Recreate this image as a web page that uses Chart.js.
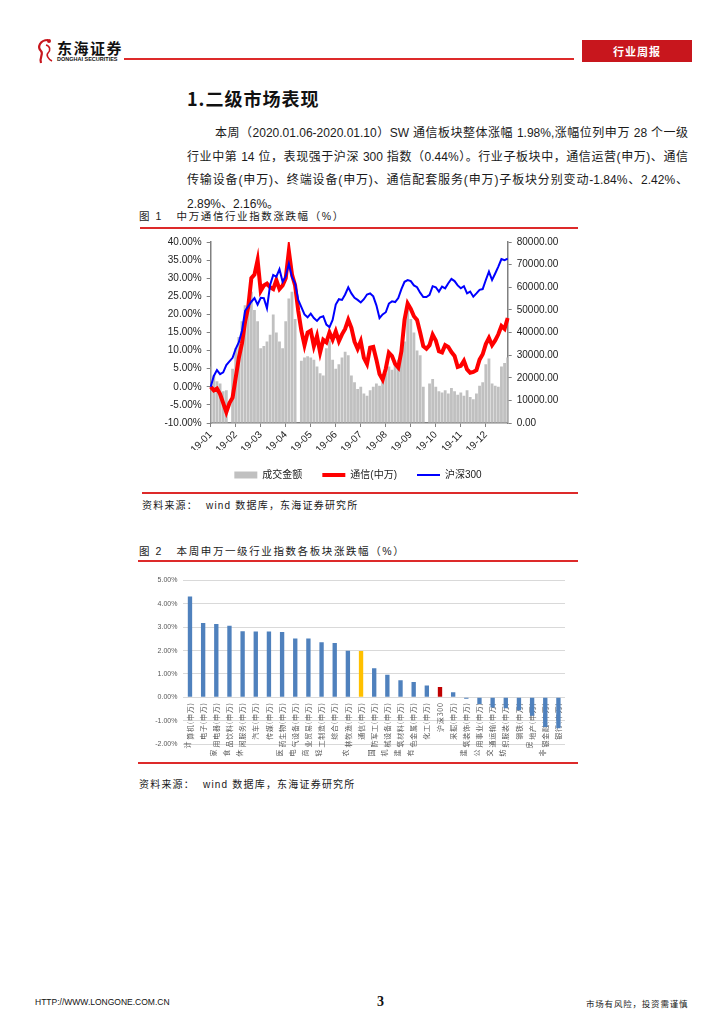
<!DOCTYPE html>
<html lang="zh-CN">
<head>
<meta charset="utf-8">
<title>通信行业周报</title>
<script src="https://cdn.jsdelivr.net/npm/chart.js@4.4.1/dist/chart.umd.min.js"></script>
<style>
  html, body { margin: 0; padding: 0; background: #fff; }
  body { width: 724px; height: 1024px; position: relative; overflow: hidden;
         font-family: "Liberation Sans", "Noto Sans CJK SC", sans-serif; color: #1a1a1a; }
  .abs { position: absolute; white-space: nowrap; }
  .redline { position: absolute; height: 2px; background: #dd2a2a; }
  .brand { left: 57px; top: 37px; font-family: "Noto Sans CJK SC", sans-serif; font-weight: 700; font-size: 15px; letter-spacing: 1.5px; color: #111; }
  .brand-en { left: 57px; top: 56px; font-size: 5.5px; font-weight: 700; letter-spacing: 0; color: #111; }
  .tag { left: 582px; top: 40px; width: 110px; height: 22px; background: #c8161d; color: #fff;
         font-family: "Noto Sans CJK SC", sans-serif; font-weight: 700; font-size: 11px; line-height: 22px; text-align: center; letter-spacing: 1px; }
  .h1 { left: 187px; top: 85px; font-family: "Noto Sans CJK SC", sans-serif; font-weight: 700; font-size: 18px; letter-spacing: 1px; color: #111; }
  .para { position: absolute; font-size: 12px; line-height: 16px; text-align: justify; text-align-last: justify; color: #1a1a1a; }
  .fig { font-size: 10.5px; letter-spacing: 1.6px; color: #1a1a1a; }
  .src { font-size: 10px; letter-spacing: 1.2px; color: #1a1a1a; }
  canvas { position: absolute; }
</style>
</head>
<body>

<svg class="abs" style="left:34px;top:37px" width="22" height="30" viewBox="0 0 22 30">
  <path d="M14 3 C6 3 3 10 7 14 C10 17 5 20 7 26" fill="none" stroke="#c8161d" stroke-width="2.2"/>
  <path d="M12 8 C16 9 17 13 14 16 C12 18 14 22 18 24" fill="none" stroke="#c8161d" stroke-width="1.6"/>
  <circle cx="15" cy="4" r="2" fill="#c8161d"/>
</svg>
<div class="abs brand">东海证券</div>
<div class="abs brand-en">DONGHAI SECURITIES</div>
<div class="redline" style="left:124px;top:58px;width:450px;height:1.5px"></div>
<div class="abs tag">行业周报</div>

<div class="abs h1">1.二级市场表现</div>

<div class="para" style="left:215px;top:125px;width:473px">本周（2020.01.06-2020.01.10）SW 通信板块整体涨幅 1.98%,涨幅位列申万 28 个一级</div>
<div class="para" style="left:187px;top:148.5px;width:501px">行业中第 14 位，表现强于沪深 300 指数（0.44%）。行业子板块中，通信运营(申万)、通信</div>
<div class="para" style="left:187px;top:172px;width:501px">传输设备(申万)、终端设备(申万)、通信配套服务(申万)子板块分别变动-1.84%、2.42%、</div>
<div class="abs" style="left:187px;top:195.5px;font-size:12px;line-height:16px">2.89%、2.16%。</div>

<div class="abs fig" style="left:139px;top:208px">图 1&nbsp;&nbsp;&nbsp;中万通信行业指数涨跌幅（%）</div>
<div class="redline" style="left:140px;top:227px;width:438px"></div>
<canvas id="indexChart" width="440" height="259" style="left:138px;top:231px"></canvas>
<div class="redline" style="left:142px;top:492px;width:436px"></div>
<div class="abs src" style="left:142px;top:497px">资料来源：&nbsp;&nbsp;wind 数据库，东海证券研究所</div>

<div class="abs fig" style="left:139px;top:543px">图 2&nbsp;&nbsp;&nbsp;本周申万一级行业指数各板块涨跌幅（%）</div>
<div class="redline" style="left:138px;top:560px;width:440px"></div>
<canvas id="sectorChart" width="440" height="197" style="left:138px;top:563px"></canvas>
<div class="redline" style="left:138px;top:762px;width:440px"></div>
<div class="abs src" style="left:139px;top:776px">资料来源：&nbsp;&nbsp;wind 数据库，东海证券研究所</div>

<div class="abs" style="left:35px;top:997px;font-size:8.5px;color:#111">HTTP://WWW.LONGONE.COM.CN</div>
<div class="abs" style="left:377px;top:994px;font-family:'Liberation Serif',serif;font-weight:700;font-size:14px;color:#111">3</div>
<div class="abs" style="left:586px;top:997px;font-family:'Noto Sans CJK SC',sans-serif;font-size:8.5px;letter-spacing:0.8px;color:#222">市场有风险，投资需谨慎</div>

<script>
// ---- 图1：样本日期（每月 8 个采样点） ----
const sampleDays = [
  '01-01','01-05','01-09','01-13','01-17','01-21','01-25','01-29',
  '02-01','02-05','02-08','02-12','02-15','02-19','02-22','02-26',
  '03-01','03-05','03-09','03-13','03-17','03-21','03-25','03-29',
  '04-01','04-05','04-09','04-13','04-17','04-21','04-25','04-29',
  '05-01','05-05','05-09','05-13','05-17','05-21','05-25','05-29',
  '06-01','06-05','06-09','06-13','06-17','06-21','06-25','06-29',
  '07-01','07-05','07-09','07-13','07-17','07-21','07-25','07-29',
  '08-01','08-05','08-09','08-13','08-17','08-21','08-25','08-29',
  '09-01','09-05','09-09','09-13','09-17','09-21','09-25','09-29',
  '10-01','10-05','10-09','10-13','10-17','10-21','10-25','10-29',
  '11-01','11-05','11-09','11-13','11-17','11-21','11-25','11-29',
  '12-01','12-05','12-09','12-13','12-17','12-21','12-25','12-29'
];

// 成交金额（右轴）
const turnover = [
  25000, 21000, 18500, 17500, 14000, 14500, 0, 24000,
  33000, 38000, 45000, 52000, 50000, 58000, 50000, 45000,
  33000, 34000, 36000, 39000, 48000, 40000, 36000, 33000,
  45000, 55000, 58000, 46000, 0, 27500, 29000, 29500,
  29000, 28000, 25000, 22000, 21000, 33000, 36500, 28000,
  24000, 26000, 29000, 31500, 30000, 21000, 18000, 15000,
  16000, 13000, 12000, 14500, 16000, 17500, 16500, 18500,
  22000, 25000, 23500, 26000, 28000, 31500, 36000, 50000,
  46000, 40000, 32000, 30000, 16000, 0, 17500, 19500,
  16000, 14000, 13500, 14500, 13000, 15500, 14000, 12500,
  13500, 12000, 14500, 11500, 10500, 13000, 16500, 18000,
  26000, 28500, 17500, 16500, 16000, 25000, 26500, 29000
];

// 通信(中万) 累计涨跌幅 %
const telecomPct = [
  0, -1.0, -0.5, -2.0, -4.5, -7.0, -4.5, -3.0,
  2.5, 8.0, 12.0, 18.0, 22.0, 30.0, 31.0, 35.0,
  26.5, 28.0, 28.5, 27.5, 27.0, 29.5, 27.0, 28.0,
  30.0, 37.5, 31.0, 28.0, 21.0, 15.5, 11.5, 15.0,
  15.5, 11.2, 14.0, 9.5, 13.0, 12.3, 15.0, 13.0,
  15.3, 12.6, 14.5, 16.0, 18.5, 16.3, 12.5, 10.5,
  12.6, 8.0, 6.3, 10.8, 11.0, 7.5, 3.5, 2.0,
  5.0, 9.4, 8.5, 6.3, 5.3, 9.8, 18.5, 23.0,
  21.5, 19.5, 18.5, 15.0, 11.2, 10.5, 11.5, 14.4,
  12.8, 9.8, 9.5, 11.5, 11.0, 9.6, 8.5, 5.5,
  5.8, 7.2, 4.8, 3.9, 4.1, 4.6, 7.5, 9.0,
  11.8, 13.5, 11.5, 12.8, 14.5, 16.8, 16.0, 19.0
];

// 沪深300 累计涨跌幅 %
const hs300Pct = [
  0, 3.0, 4.6, 3.5, 4.0, 6.0, 7.0, 8.0,
  10.5, 12.3, 15.5, 21.0, 22.2, 23.5, 24.5, 22.7,
  24.6, 24.5, 21.7, 28.1, 30.9, 30.4, 32.5, 29.0,
  30.5, 34.0, 30.3, 28.6, 24.0, 22.0, 20.0, 19.2,
  20.2, 19.0, 18.2, 19.2, 19.5, 17.2, 16.5, 18.5,
  22.7, 24.2, 24.0, 25.5, 27.5, 25.8, 24.6, 24.0,
  23.3, 24.2, 25.5, 25.8, 25.0, 22.5, 19.0, 20.0,
  20.6, 23.0, 23.6, 23.4, 24.5, 27.0, 29.0, 29.5,
  29.2, 28.0, 27.5, 26.0, 24.8, 24.8, 25.4, 27.8,
  27.5, 26.3, 27.7, 27.2, 28.6, 29.8, 29.2, 28.0,
  27.2, 27.8, 25.8, 26.3, 24.9, 25.8, 26.8, 27.0,
  29.5, 31.8, 29.5, 31.3, 33.2, 35.3, 35.0, 35.4
];

// ---- 图2：申万一级行业本周涨跌幅 ----
const sectors = [
  '计算机(申万)', '电子(申万)', '家用电器(申万)', '食品饮料(申万)', '休闲服务(申万)',
  '汽车(申万)', '传媒(申万)', '医药生物(申万)', '电气设备(申万)', '商业贸易(申万)',
  '轻工制造(申万)', '综合(申万)', '农林牧渔(申万)', '通信(申万)', '国防军工(申万)',
  '机械设备(申万)', '建筑材料(申万)', '有色金属(申万)', '化工(申万)', '沪深300',
  '采掘(申万)', '建筑装饰(申万)', '公用事业(申万)', '交通运输(申万)', '纺织服装(申万)',
  '钢铁(申万)', '房地产(申万)', '非银金融(申万)', '银行(申万)'
];
const weeklyChange = [
  4.32, 3.18, 3.14, 3.06, 2.83,
  2.82, 2.82, 2.79, 2.52, 2.52,
  2.36, 2.32, 1.99, 1.98, 1.24,
  0.97, 0.73, 0.65, 0.50, 0.44,
  0.22, -0.06, -0.29, -0.44, -0.47,
  -0.56, -0.79, -1.27, -1.33
];

Chart.defaults.font.family = "'Liberation Sans', 'Noto Sans CJK SC', sans-serif";
Chart.defaults.animation = false;

const axisGray = '#808080';

new Chart(document.getElementById('indexChart'), {
  type: 'bar',
  data: {
    labels: sampleDays,
    datasets: [{
      type: 'bar',
      label: '成交金额',
      data: turnover,
      yAxisID: 'y1',
      backgroundColor: '#c0c0c0',
      borderWidth: 0,
      barPercentage: 0.9,
      categoryPercentage: 1,
      order: 3
    }, {
      type: 'line',
      label: '通信(中万)',
      data: telecomPct,
      yAxisID: 'y',
      borderColor: '#ff0000',
      backgroundColor: '#ff0000',
      borderWidth: 4,
      pointRadius: 0,
      tension: 0,
      order: 2
    }, {
      type: 'line',
      label: '沪深300',
      data: hs300Pct,
      yAxisID: 'y',
      borderColor: '#0000ff',
      backgroundColor: '#0000ff',
      borderWidth: 2,
      pointRadius: 0,
      tension: 0,
      order: 1
    }]
  },
  options: {
    responsive: false,
    layout: { padding: { top: 9.5, left: 0, right: 0, bottom: 0 } },
    plugins: {
      tooltip: { enabled: false },
      legend: {
        position: 'bottom',
        labels: {
          usePointStyle: true,
          pointStyleWidth: 23,
          boxHeight: 7,
          padding: 20,
          color: '#222',
          font: { size: 10 },
          generateLabels(chart) {
            const items = Chart.defaults.plugins.legend.labels.generateLabels(chart);
            items.forEach(it => {
              const ds = chart.data.datasets[it.datasetIndex];
              it.pointStyle = ds.type === 'line' ? 'line' : 'rect';
              it.lineWidth = ds.type === 'line' ? ds.borderWidth : 0;
              it.strokeStyle = ds.borderColor || ds.backgroundColor;
              it.fillStyle = ds.backgroundColor;
            });
            return items.sort((a, b) => a.datasetIndex - b.datasetIndex);
          }
        }
      }
    },
    scales: {
      x: {
        offset: false,
        grid: { offset: false, drawOnChartArea: false, drawTicks: true, tickLength: 4, color: axisGray },
        border: { color: axisGray, width: 1.5 },
        ticks: {
          autoSkip: false,
          maxRotation: 45,
          minRotation: 45,
          padding: 2,
          color: '#222',
          font: { size: 10 },
          callback(value) {
            const d = this.getLabelForValue(value);
            return d.endsWith('-01') ? '19-' + d.slice(0, 2) : null;
          }
        },
        afterFit(scale) { scale.height = 27; }
      },
      y: {
        position: 'left',
        min: -10,
        max: 40,
        ticks: { stepSize: 5, padding: 5, color: '#222', font: { size: 10 },
                 callback: v => v.toFixed(2) + '%' },
        grid: { drawOnChartArea: false, tickLength: 4, color: axisGray },
        border: { color: axisGray, width: 1.5 },
        afterFit(scale) { scale.width = 72.7; }
      },
      y1: {
        position: 'right',
        min: 0,
        max: 80000,
        ticks: { stepSize: 10000, padding: 5, color: '#222', font: { size: 10 },
                 callback: v => v.toFixed(2) },
        grid: { drawOnChartArea: false, tickLength: 4, color: axisGray },
        border: { color: axisGray, width: 1.5 },
        afterFit(scale) { scale.width = 70.3; }
      }
    }
  }
});

function barColor(name) {
  if (name === '通信(申万)') return '#ffc000';
  if (name === '沪深300') return '#c00000';
  return '#4f81bd';
}

// 竖排类别标签：贴着 0 轴向下写，长标签首字折到左侧一列（仿 Excel），柱子压在文字上
const sectorLabels = {
  id: 'sectorLabels',
  beforeDatasetsDraw(chart) {
    const { ctx, scales: { x, y } } = chart;
    const top = y.getPixelForValue(0) + 5;
    ctx.save();
    ctx.font = "7px 'Noto Sans CJK SC', sans-serif";
    ctx.fillStyle = '#595959';
    ctx.letterSpacing = '0.8px';
    ctx.textBaseline = 'middle';
    chart.data.labels.forEach((label, i) => {
      const cx = x.getPixelForValue(i);
      const wrap = label.length >= 7;
      const main = wrap ? label.slice(1) : label;
      const w = ctx.measureText(main).width;
      ctx.save();
      ctx.translate(cx, top);
      ctx.rotate(-Math.PI / 2);
      ctx.textAlign = 'right';
      ctx.fillText(main, 0, 0);
      if (wrap) ctx.fillText(label[0], -w - 1, -3);
      ctx.restore();
    });
    ctx.restore();
  }
};

new Chart(document.getElementById('sectorChart'), {
  type: 'bar',
  data: {
    labels: sectors,
    datasets: [{
      label: '本周涨跌幅',
      data: weeklyChange,
      backgroundColor: sectors.map(barColor),
      borderWidth: 0,
      barPercentage: 0.33,
      categoryPercentage: 1
    }]
  },
  options: {
    responsive: false,
    layout: { padding: { top: 17.5, left: 0, right: 13, bottom: 16 } },
    plugins: { legend: { display: false }, tooltip: { enabled: false } },
    scales: {
      x: {
        position: { y: 0 },
        grid: { display: false },
        border: { display: false },
        ticks: { display: false }
      },
      y: {
        min: -2,
        max: 5,
        ticks: { stepSize: 1, padding: 6, color: '#595959', font: { size: 7 },
                 callback: v => v.toFixed(2) + '%' },
        grid: { color: '#d9d9d9', drawTicks: false },
        border: { display: false },
        afterFit(scale) { scale.width = 45.4; }
      }
    }
  },
  plugins: [sectorLabels]
});
</script>
</body>
</html>
